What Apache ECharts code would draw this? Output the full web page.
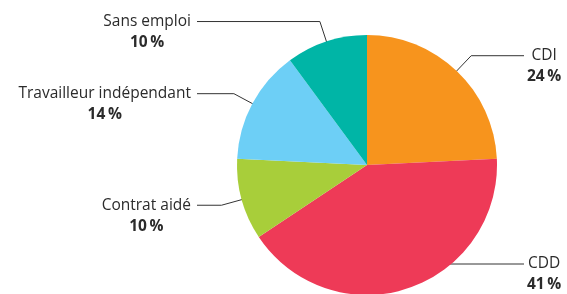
<!DOCTYPE html>
<html>
<head>
<meta charset="utf-8">
<script src="https://cdn.jsdelivr.net/npm/echarts@6/dist/echarts.min.js"></script>
<style>
html, body { margin: 0; padding: 0; background: #fff; }
#chart { width: 567px; height: 294px; }
</style>
</head>
<body>
<div id="chart"></div>
<script>
// données
var categories = ["CDI", "CDD", "Contrat aidé", "Travailleur indépendant", "Sans emploi"];
var values = [24, 41, 10, 14, 10];
var colors = ["#f7941d", "#ee3a57", "#a8ce3a", "#6dcff6", "#00b5a6"];

var cx = 367, cy = 165;
var textColor = "#2b2b2b";

var pieData = [];
var labelData = [];
for (var i = 0; i < categories.length; i++) {
	pieData.push({ name: categories[i], value: values[i], itemStyle: { color: colors[i] } });
	labelData.push({ name: categories[i], value: values[i] });
}

var chart = echarts.init(document.getElementById("chart"));

chart.setOption({
	animation: false,
	series: [{
		type: "pie",
		center: [cx, cy],
		radius: 130,
		startAngle: 90,
		clockwise: true,
		silent: true,
		label: { show: false },
		labelLine: { show: false },
		data: pieData
	}, {
		// serie transparente, juste pour les étiquettes (trait qui part de l'intérieur)
		type: "pie",
		center: [cx, cy],
		radius: 119,
		startAngle: 90,
		clockwise: true,
		silent: true,
		itemStyle: { color: "transparent" },
		label: {
			show: true,
			position: "outside",
			padding: [21, 0, 0, 0],
			formatter: "{n|{b}}\n{p|{c}\u2009%}",
			rich: {
				n: { fontFamily: "Open Sans", fontSize: 15.5, lineHeight: 21, color: textColor, align: "center" },
				p: { fontFamily: "Open Sans", fontSize: 15.5, lineHeight: 21, fontWeight: "bold", color: textColor, align: "center" }
			}
		},
		labelLine: {
			show: true,
			length: 32,
			length2: 20,
			lineStyle: { color: "#333", width: 1 }
		},
		labelLayout: function(p) {
			var pts = p.labelLinePoints;
			if (!pts) return {};
			var left = pts[2][0] < cx;
			var endX = left ? 197 : 524;
			pts[2][0] = endX;
			return {
				x: left ? endX - 6 : endX + 3,
				align: left ? "right" : "left",
				labelLinePoints: pts
			};
		},
		data: labelData
	}]
});
</script>
</body>
</html>
